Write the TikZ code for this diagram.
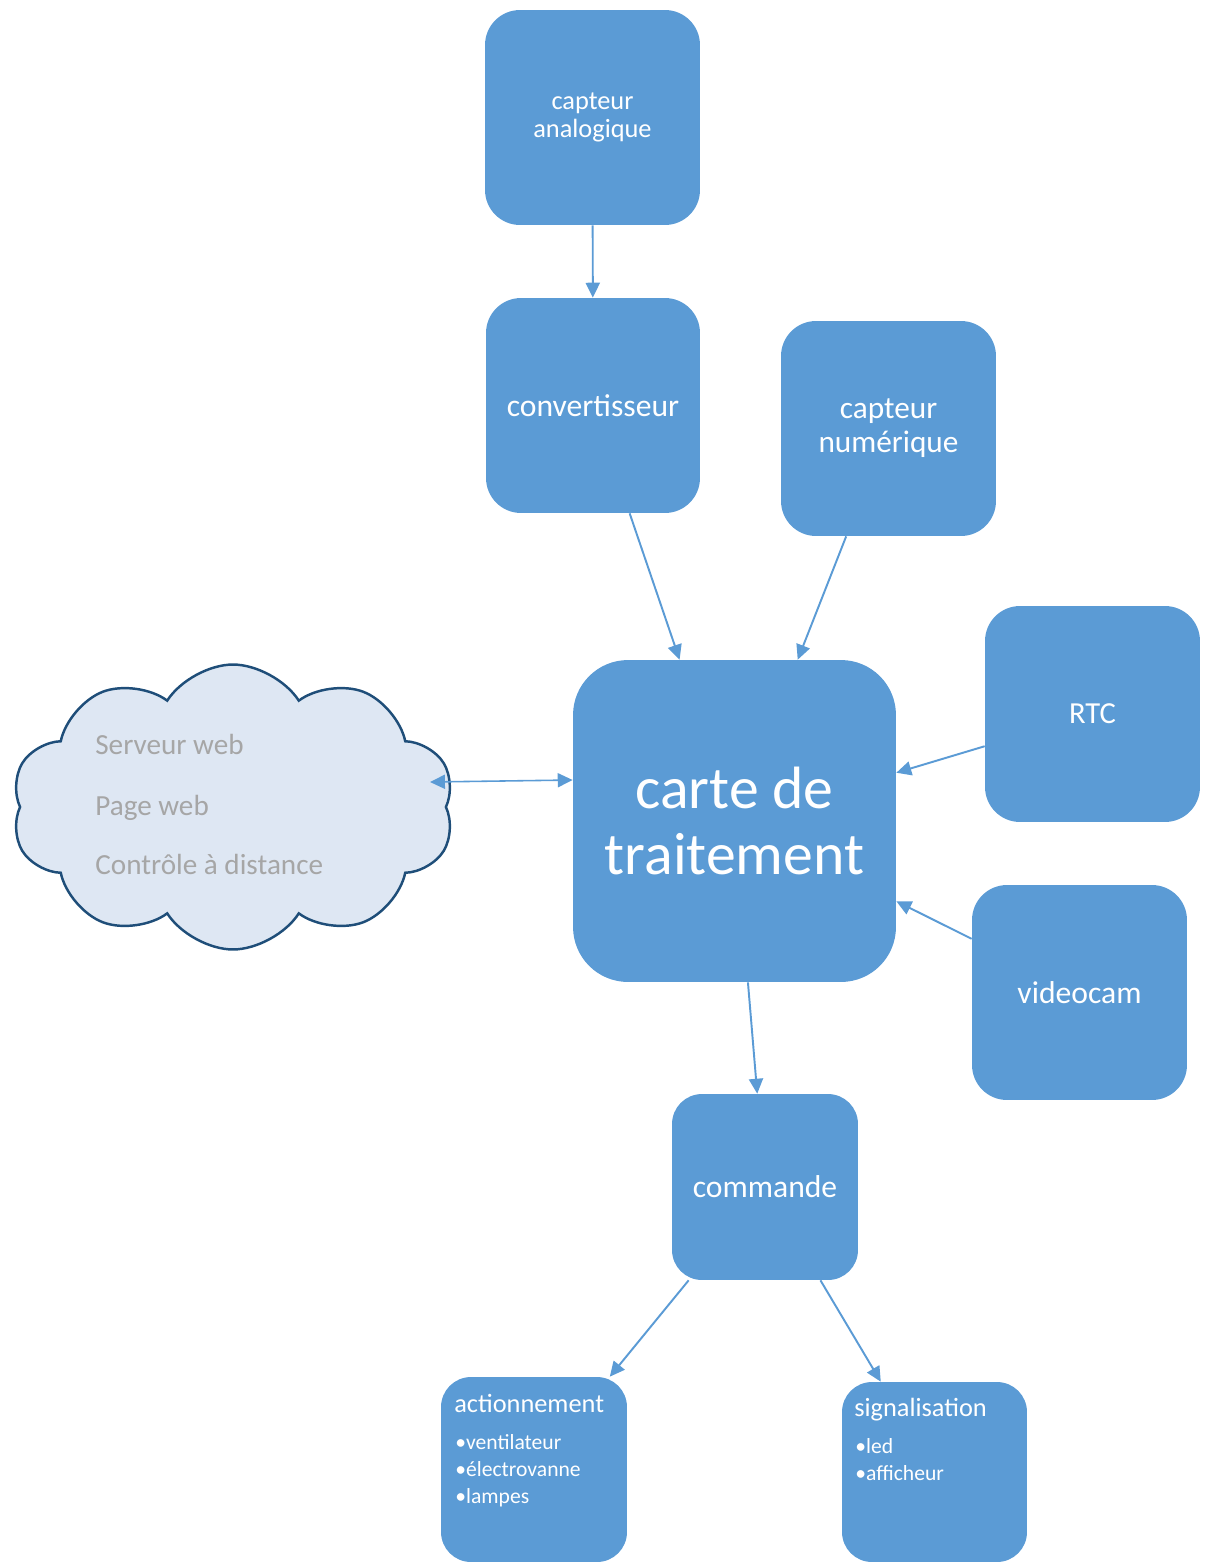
\documentclass[tikz,border=0pt]{standalone}
\usepackage{fontspec}
\setmainfont{Carlito}
\usetikzlibrary{shapes.symbols,arrows.meta}
\definecolor{boxblue}{HTML}{5B9BD5}
\definecolor{arrowblue}{HTML}{5B9BD5}
\definecolor{cloudfill}{HTML}{DEE7F3}
\definecolor{cloudline}{HTML}{1F4E79}
\definecolor{cloudtext}{HTML}{A6A6A6}
\begin{document}
\begin{tikzpicture}[x=0.02cm,y=-0.02cm,
  box/.style={fill=boxblue, draw=none, rounded corners=0.7cm, text=white, align=center, inner sep=0pt},
  conn/.style={draw=arrowblue, line width=1.1pt, -{Triangle[length=8.5pt,width=8pt]}},
  both/.style={draw=arrowblue, line width=0.9pt, {Triangle[length=8.5pt,width=8pt]}-{Triangle[length=8.5pt,width=8pt]}},
  cloudtxt/.style={anchor=base west, text=cloudtext, inner sep=0pt, font=\fontsize{16.6}{20}\selectfont},
  title/.style={anchor=base west, text=white, inner sep=0pt, font=\fontsize{15}{18}\selectfont},
  item/.style={anchor=base west, text=white, inner sep=0pt, font=\fontsize{12.3}{15}\selectfont}]
\useasboundingbox (0,0) rectangle (1207,1562);

% boxes
\node[box, minimum width=4.3cm, minimum height=4.3cm, font=\fontsize{15}{16.4}\selectfont] (analog) at (592.5,117.5) {capteur\\analogique};
\node[box, minimum width=4.28cm, minimum height=4.3cm, font=\fontsize{18}{21}\selectfont] (conv) at (593,405.5) {convertisseur};
\node[box, minimum width=4.3cm, minimum height=4.3cm, font=\fontsize{17.8}{19.3}\selectfont] (num) at (888.5,428.5) {capteur\\numérique};
\node[box, rounded corners=1.1cm, minimum width=6.46cm, minimum height=6.44cm, font=\fontsize{34}{38}\selectfont] (carte) at (734.5,821) {carte de\\traitement};
\node[box, minimum width=4.3cm, minimum height=4.32cm, font=\fontsize{17.4}{21}\selectfont] (rtc) at (1092.5,714) {RTC};
\node[box, minimum width=4.3cm, minimum height=4.3cm, font=\fontsize{18}{21}\selectfont] (video) at (1079.5,992.5) {videocam};
\node[box, rounded corners=0.6cm, minimum width=3.72cm, minimum height=3.72cm, font=\fontsize{18}{21}\selectfont] (cmd) at (765,1187) {commande};
\node[box, rounded corners=0.6cm, minimum width=3.72cm, minimum height=3.7cm] (act) at (534,1469.5) {};
\node[box, rounded corners=0.6cm, minimum width=3.7cm, minimum height=3.6cm] (sig) at (934.5,1472) {};

% texts of the bottom boxes
\node[title] (acttitle) at (454,1412) {actionnement};
\node[item] (act1) at (455,1449) {•ventilateur};
\node[item] (act2) at (455,1476) {•électrovanne};
\node[item] (act3) at (455,1503) {•lampes};
\node[title] (sigtitle) at (854,1416) {signalisation};
\node[item] (sig1) at (855,1453) {•led};
\node[item] (sig2) at (855,1480) {•afficheur};

% cloud
\node[cloud, cloud puffs=10, cloud puff arc=115, aspect=1.55, minimum width=8.86cm, minimum height=5.7cm,
  fill=cloudfill, draw=cloudline, line width=1.4pt, inner sep=0pt] (cloud) at (233,807) {};
\node[cloudtxt] (srv) at (95,754) {Serveur web};
\node[cloudtxt] (page) at (95,815) {Page web};
\node[cloudtxt] (ctrl) at (95,874) {Contrôle à distance};
\coordinate (cloudport) at (430,782);

% connectors
\draw[conn] (analog) -- (conv);
\draw[conn] (conv) -- (carte);
\draw[conn] (num) -- (carte);
\draw[conn] (rtc) -- (carte);
\draw[conn] (video) -- (carte);
\draw[conn] (carte) -- (cmd);
\draw[conn] (cmd) -- (act);
\draw[conn] (cmd) -- (sig);
\draw[both] ([yshift=0.82cm]carte.west) -- (cloudport);
\end{tikzpicture}
\end{document}
